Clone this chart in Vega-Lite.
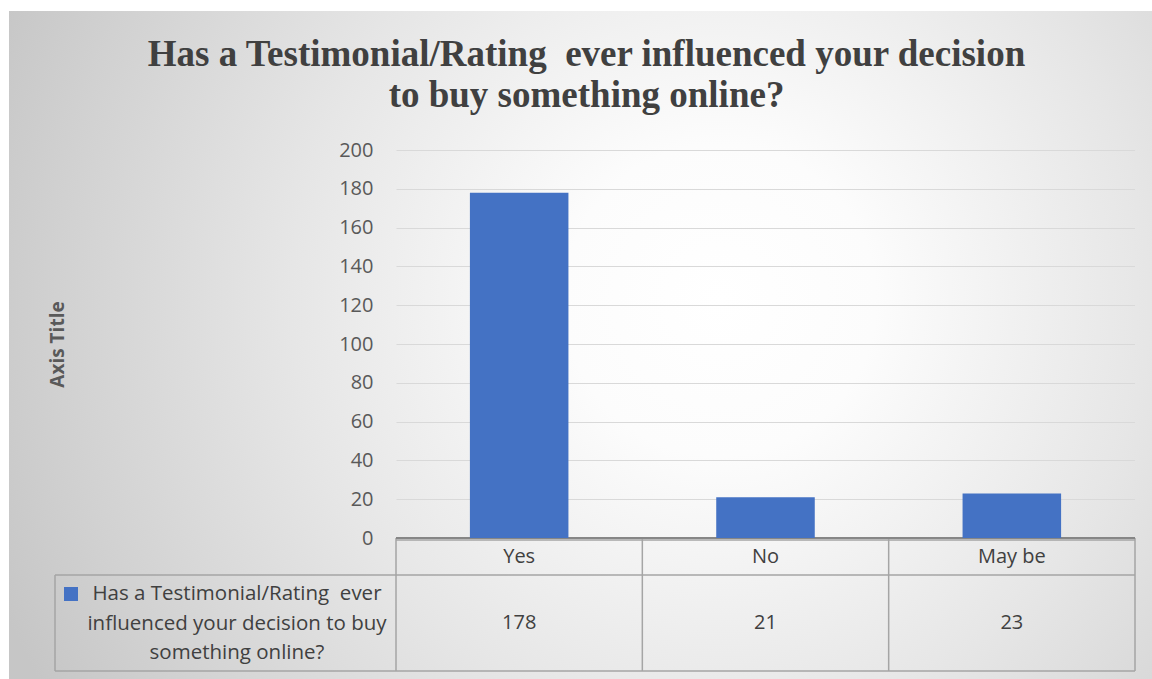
{
  "$schema": "https://vega.github.io/schema/vega-lite/v6.json",
  "width": 739,
  "height": 388,
  "padding": {"left": 9, "top": 11, "right": 0, "bottom": 0},
  "background": "#ffffff",
  "config": {
    "view": {
      "stroke": null,
      "fill": {"gradient": "radial", "x1": 0.43843, "y1": 0.44046, "r1": 0, "x2": 0.43843, "y2": 0.44046, "r2": 1.05548,
        "stops": [{"offset": 0, "color": "#ffffff"}, {"offset": 0.2, "color": "#fcfcfc"}, {"offset": 0.55, "color": "#e6e6e6"}, {"offset": 0.85, "color": "#d1d1d1"}, {"offset": 1, "color": "#c6c6c6"}]}
    }
  },
  "title": {
    "text": ["Has a Testimonial/Rating\u00a0 ever influenced your decision", "to buy something online?"],
    "font": "Liberation Serif",
    "fontSize": 37,
    "fontWeight": "bold",
    "color": "#404040",
    "lineHeight": 41.5,
    "anchor": "middle",
    "frame": "bounds",
    "dx": 6,
    "dy": 108
  },
  "data": {"values": [
    {"answer": "Yes", "count": 178},
    {"answer": "No", "count": 21},
    {"answer": "May be", "count": 23}
  ]},
  "resolve": {"scale": {"x": "independent"}, "axis": {"y": "independent"}},
  "layer": [
    {
      "data": {"values": [{}]},
      "mark": {"type": "rect", "fill": {"gradient": "radial", "x1": 0.62205, "y1": 0.69204, "r1": 0, "x2": 0.62205, "y2": 0.69204, "r2": 0.68241,
        "stops": [{"offset": 0, "color": "#ffffff"}, {"offset": 0.2, "color": "#fcfcfc"}, {"offset": 0.55, "color": "#e6e6e6"}, {"offset": 0.85, "color": "#d1d1d1"}, {"offset": 1, "color": "#c6c6c6"}]}},
      "encoding": {
        "x": {"datum": -1.57104, "type": "quantitative", "scale": {"domain": [0, 3], "nice": false, "zero": false}, "axis": null},
        "x2": {"datum": 3.06901},
        "y": {"datum": 200, "type": "quantitative", "scale": {"domain": [0, 200], "nice": false}, "axis": null},
        "y2": {"datum": 271.649}
      }
    },
    {
      "data": {"values": [{}]},
      "mark": {"type": "rect", "fill": {"gradient": "radial", "x1": 0.62205, "y1": 0.2301, "r1": 0, "x2": 0.62205, "y2": 0.2301, "r2": 0.68241,
        "stops": [{"offset": 0, "color": "#ffffff"}, {"offset": 0.2, "color": "#fcfcfc"}, {"offset": 0.55, "color": "#e6e6e6"}, {"offset": 0.85, "color": "#d1d1d1"}, {"offset": 1, "color": "#c6c6c6"}]}},
      "encoding": {
        "x": {"datum": -1.57104, "type": "quantitative", "scale": {"domain": [0, 3], "nice": false, "zero": false}, "axis": null},
        "x2": {"datum": 3.06901},
        "y": {"datum": -72.68, "type": "quantitative", "scale": {"domain": [0, 200], "nice": false}, "axis": null},
        "y2": {"datum": 0}
      }
    },
    {
      "data": {"values": [{}]},
      "mark": {"type": "rect", "fill": {"gradient": "radial", "x1": 1.83376, "y1": 0.3866, "r1": 0, "x2": 1.83376, "y2": 0.3866, "r2": 2.01031,
        "stops": [{"offset": 0, "color": "#ffffff"}, {"offset": 0.2, "color": "#fcfcfc"}, {"offset": 0.55, "color": "#e6e6e6"}, {"offset": 0.85, "color": "#d1d1d1"}, {"offset": 1, "color": "#c6c6c6"}]}},
      "encoding": {
        "x": {"datum": -1.57104, "type": "quantitative", "scale": {"domain": [0, 3], "nice": false, "zero": false}, "axis": null},
        "x2": {"datum": 0},
        "y": {"datum": 0, "type": "quantitative", "scale": {"domain": [0, 200], "nice": false}, "axis": null},
        "y2": {"datum": 200}
      }
    },
    {
      "data": {"values": [{}]},
      "mark": {"type": "rect", "fill": {"gradient": "radial", "x1": -0.59149, "y1": 0.3866, "r1": 0, "x2": -0.59149, "y2": 0.3866, "r2": 2.01031,
        "stops": [{"offset": 0, "color": "#ffffff"}, {"offset": 0.2, "color": "#fcfcfc"}, {"offset": 0.55, "color": "#e6e6e6"}, {"offset": 0.85, "color": "#d1d1d1"}, {"offset": 1, "color": "#c6c6c6"}]}},
      "encoding": {
        "x": {"datum": 3, "type": "quantitative", "scale": {"domain": [0, 3], "nice": false, "zero": false}, "axis": null},
        "x2": {"datum": 3.06901},
        "y": {"datum": 0, "type": "quantitative", "scale": {"domain": [0, 200], "nice": false}, "axis": null},
        "y2": {"datum": 200}
      }
    },
    {
      "data": {"values": [{}]},
      "mark": {"type": "rule", "color": "#a5a5a5", "strokeWidth": 1.5},
      "encoding": {
        "x": {"datum": 0, "type": "quantitative", "scale": {"domain": [0, 3], "nice": false, "zero": false}, "axis": null},
        "x2": {"datum": 3},
        "y": {"datum": -1.031, "type": "quantitative", "scale": {"domain": [0, 200], "nice": false}, "axis": null}
      }
    },
    {
      "data": {"values": [{}]},
      "mark": {"type": "rule", "color": "#a5a5a5", "strokeWidth": 1.5},
      "encoding": {
        "x": {"datum": -1.3843, "type": "quantitative", "scale": {"domain": [0, 3], "nice": false, "zero": false}, "axis": null},
        "x2": {"datum": 3},
        "y": {"datum": -19.072, "type": "quantitative", "scale": {"domain": [0, 200], "nice": false}, "axis": null}
      }
    },
    {
      "data": {"values": [{}]},
      "mark": {"type": "rule", "color": "#a5a5a5", "strokeWidth": 1.5},
      "encoding": {
        "x": {"datum": -1.3843, "type": "quantitative", "scale": {"domain": [0, 3], "nice": false, "zero": false}, "axis": null},
        "x2": {"datum": 3},
        "y": {"datum": -68.557, "type": "quantitative", "scale": {"domain": [0, 200], "nice": false}, "axis": null}
      }
    },
    {
      "data": {"values": [{}]},
      "mark": {"type": "rule", "color": "#a5a5a5", "strokeWidth": 1.5},
      "encoding": {
        "x": {"datum": -1.3843, "type": "quantitative", "scale": {"domain": [0, 3], "nice": false, "zero": false}, "axis": null},
        "y": {"datum": -19.072, "type": "quantitative", "scale": {"domain": [0, 200], "nice": false}, "axis": null},
        "y2": {"datum": -68.557}
      }
    },
    {
      "data": {"values": [{}]},
      "mark": {"type": "rule", "color": "#a5a5a5", "strokeWidth": 1.5},
      "encoding": {
        "x": {"datum": 0, "type": "quantitative", "scale": {"domain": [0, 3], "nice": false, "zero": false}, "axis": null},
        "y": {"datum": 0, "type": "quantitative", "scale": {"domain": [0, 200], "nice": false}, "axis": null},
        "y2": {"datum": -68.557}
      }
    },
    {
      "data": {"values": [{}]},
      "mark": {"type": "rule", "color": "#a5a5a5", "strokeWidth": 1.5},
      "encoding": {
        "x": {"datum": 1, "type": "quantitative", "scale": {"domain": [0, 3], "nice": false, "zero": false}, "axis": null},
        "y": {"datum": 0, "type": "quantitative", "scale": {"domain": [0, 200], "nice": false}, "axis": null},
        "y2": {"datum": -68.557}
      }
    },
    {
      "data": {"values": [{}]},
      "mark": {"type": "rule", "color": "#a5a5a5", "strokeWidth": 1.5},
      "encoding": {
        "x": {"datum": 2, "type": "quantitative", "scale": {"domain": [0, 3], "nice": false, "zero": false}, "axis": null},
        "y": {"datum": 0, "type": "quantitative", "scale": {"domain": [0, 200], "nice": false}, "axis": null},
        "y2": {"datum": -68.557}
      }
    },
    {
      "data": {"values": [{}]},
      "mark": {"type": "rule", "color": "#a5a5a5", "strokeWidth": 1.5},
      "encoding": {
        "x": {"datum": 3, "type": "quantitative", "scale": {"domain": [0, 3], "nice": false, "zero": false}, "axis": null},
        "y": {"datum": 0, "type": "quantitative", "scale": {"domain": [0, 200], "nice": false}, "axis": null},
        "y2": {"datum": -68.557}
      }
    },
    {
      "data": {"values": [{}]},
      "mark": {"type": "rule", "color": "#868686", "strokeWidth": 2},
      "encoding": {
        "x": {"datum": 0, "type": "quantitative", "scale": {"domain": [0, 3], "nice": false, "zero": false}, "axis": null},
        "x2": {"datum": 3},
        "y": {"datum": 0, "type": "quantitative", "scale": {"domain": [0, 200], "nice": false},
          "axis": {"orient": "right", "grid": true, "gridColor": "#d9d9d9", "gridWidth": 1, "labels": false, "ticks": false, "domain": false, "title": "", "values": [0, 20, 40, 60, 80, 100, 120, 140, 160, 180, 200]}}
      }
    },
    {
      "data": {"values": [{}]},
      "mark": {"type": "point", "shape": "square", "filled": true, "size": 196, "color": "#4472c4", "opacity": 1},
      "encoding": {
        "x": {"datum": -1.3194, "type": "quantitative", "scale": {"domain": [0, 3], "nice": false, "zero": false}, "axis": null},
        "y": {"datum": -28.866, "type": "quantitative", "scale": {"domain": [0, 200], "nice": false}, "axis": null}
      }
    },
    {
      "data": {"values": [{}]},
      "mark": {"type": "text", "text": ["Has a Testimonial/Rating\u00a0 ever", "influenced your decision to buy", "something online?"], "font": "Open Sans", "fontSize": 20.5, "color": "#404040", "align": "center", "baseline": "middle", "lineHeight": 29.5},
      "encoding": {
        "x": {"datum": -0.6455, "type": "quantitative", "scale": {"domain": [0, 3], "nice": false, "zero": false}, "axis": null},
        "y": {"datum": -28.866, "type": "quantitative", "scale": {"domain": [0, 200], "nice": false}, "axis": null}
      }
    },
    {
      "mark": {"type": "bar", "color": "#4472c4"},
      "encoding": {
        "x": {"field": "answer", "type": "nominal", "sort": null, "scale": {"paddingInner": 0.6, "paddingOuter": 0.3}, "axis": null},
        "y": {"field": "count", "type": "quantitative", "scale": {"domain": [0, 200], "nice": false},
          "axis": {"orient": "left", "values": [0, 20, 40, 60, 80, 100, 120, 140, 160, 180, 200], "grid": false, "ticks": false, "domain": false,
            "labelFont": "Open Sans", "labelFontSize": 20, "labelColor": "#595959", "labelPadding": 23,
            "title": "Axis Title", "titleFont": "Open Sans", "titleFontSize": 19, "titleFontWeight": "bold", "titleColor": "#595959",
            "titleX": -339, "titleY": 194, "titleBaseline": "middle", "titleAlign": "center", "titleAngle": -90, "zindex": 1}}
      }
    },
    {
      "mark": {"type": "text", "font": "Open Sans", "fontSize": 20, "color": "#404040", "baseline": "middle"},
      "encoding": {
        "x": {"field": "answer", "type": "nominal", "sort": null, "axis": null},
        "y": {"datum": -9.794, "type": "quantitative", "scale": {"domain": [0, 200], "nice": false}, "axis": null},
        "text": {"field": "answer"}
      }
    },
    {
      "mark": {"type": "text", "font": "Open Sans", "fontSize": 20, "color": "#404040", "baseline": "middle"},
      "encoding": {
        "x": {"field": "answer", "type": "nominal", "sort": null, "axis": null},
        "y": {"datum": -43.814, "type": "quantitative", "scale": {"domain": [0, 200], "nice": false}, "axis": null},
        "text": {"field": "count"}
      }
    }
  ]
}
